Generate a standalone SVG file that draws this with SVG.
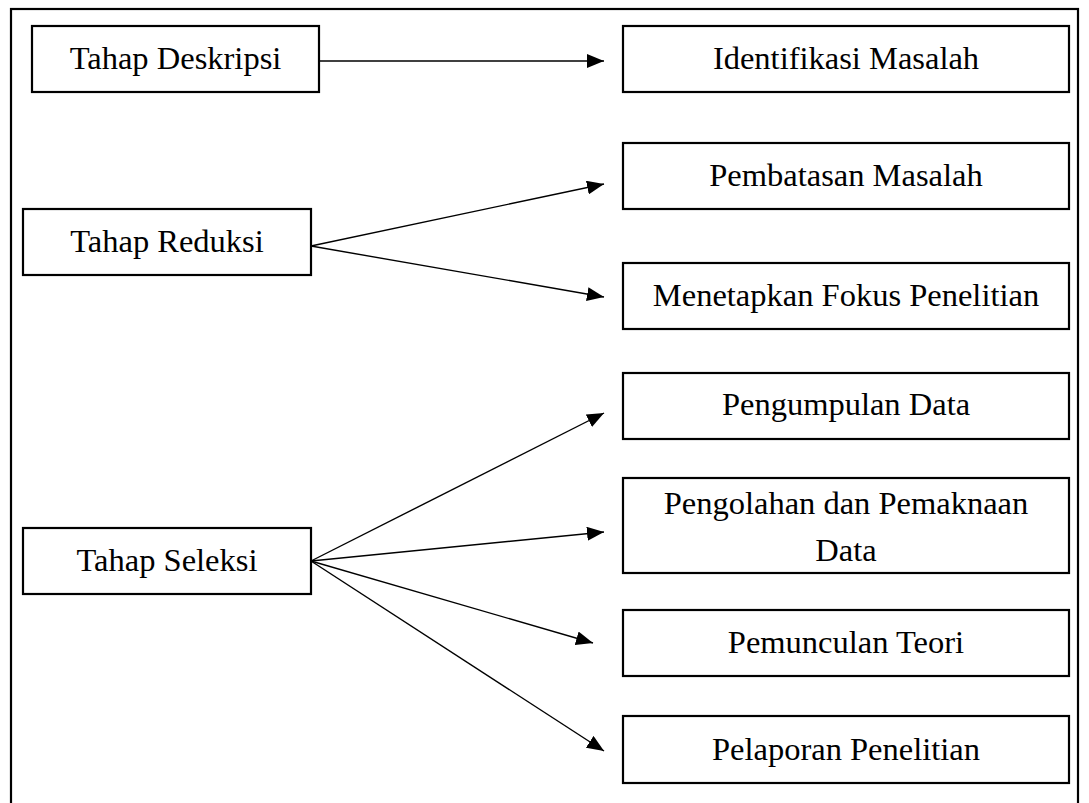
<svg xmlns="http://www.w3.org/2000/svg" width="1089" height="803" viewBox="0 0 1089 803">
<style>
.box{fill:#fff;stroke:#000;stroke-width:2.2}
.t{font-family:"Liberation Serif","Times New Roman",serif;font-size:32.5px;fill:#000;text-anchor:middle}
.c{stroke:#000;stroke-width:1.4;fill:none;marker-end:url(#ah)}
</style>
<defs>
<marker id="ah" markerUnits="userSpaceOnUse" markerWidth="18" markerHeight="14" refX="17" refY="7" orient="auto" viewBox="0 0 18 14">
<path d="M0,0 L17,7 L0,14 z" fill="#000"/>
</marker>
</defs>
<rect width="1089" height="803" fill="#fff"/>
<rect x="11" y="9" width="1067" height="830" fill="none" stroke="#000" stroke-width="2.2"/>
<g id="connectors">
<line class="c" x1="319" y1="61" x2="604" y2="61"/>
<line class="c" x1="311" y1="246" x2="604" y2="184"/>
<line class="c" x1="311" y1="246" x2="604" y2="297"/>
<line class="c" x1="311" y1="561" x2="604" y2="413"/>
<line class="c" x1="311" y1="561" x2="604" y2="532"/>
<line class="c" x1="311" y1="561" x2="593" y2="643"/>
<line class="c" x1="311" y1="561" x2="604" y2="751"/>
</g>
<g id="deskripsi"><rect class="box" x="32" y="26" width="287" height="66"/><text class="t" x="175.5" y="69">Tahap Deskripsi</text></g>
<g id="reduksi"><rect class="box" x="23" y="209" width="288" height="66"/><text class="t" x="167" y="252">Tahap Reduksi</text></g>
<g id="seleksi"><rect class="box" x="23" y="528" width="288" height="66"/><text class="t" x="167" y="571">Tahap Seleksi</text></g>
<g id="identifikasi"><rect class="box" x="623" y="26" width="446" height="66"/><text class="t" x="846" y="69">Identifikasi Masalah</text></g>
<g id="pembatasan"><rect class="box" x="623" y="143" width="446" height="66"/><text class="t" x="846" y="186">Pembatasan Masalah</text></g>
<g id="menetapkan"><rect class="box" x="623" y="263" width="446" height="66"/><text class="t" x="846" y="306">Menetapkan Fokus Penelitian</text></g>
<g id="pengumpulan"><rect class="box" x="623" y="373" width="446" height="66"/><text class="t" x="846" y="415">Pengumpulan Data</text></g>
<g id="pengolahan"><rect class="box" x="623" y="478" width="446" height="95"/><text class="t" x="846" y="514">Pengolahan dan Pemaknaan</text><text class="t" x="846" y="561">Data</text></g>
<g id="pemunculan"><rect class="box" x="623" y="610" width="446" height="66"/><text class="t" x="846" y="653">Pemunculan Teori</text></g>
<g id="pelaporan"><rect class="box" x="623" y="716" width="446" height="67"/><text class="t" x="846" y="759.5">Pelaporan Penelitian</text></g>
</svg>
